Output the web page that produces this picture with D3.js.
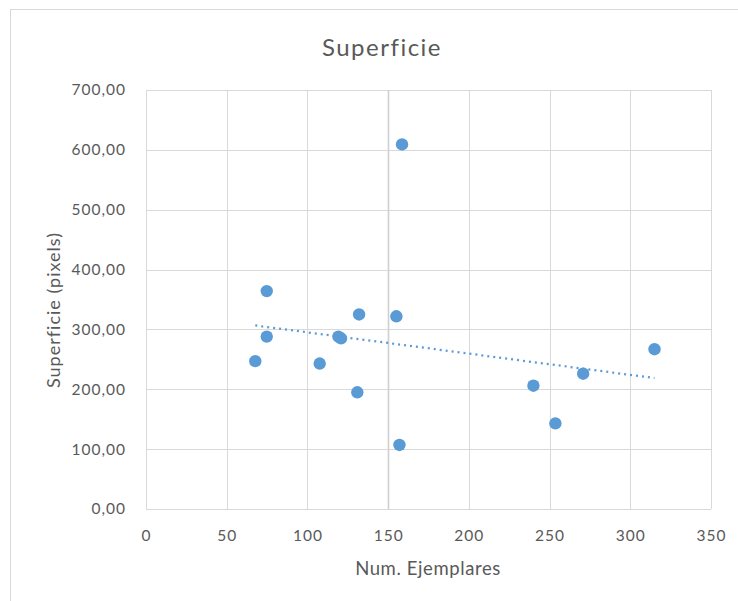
<!DOCTYPE html>
<html>
<head>
<meta charset="utf-8">
<script src="https://cdn.jsdelivr.net/npm/d3@7"></script>
<style>
  body { margin: 0; background: #fff; }
  text { font-family: Lato, "Open Sans", sans-serif; fill: #595959; }
</style>
</head>
<body>
<div id="chart"></div>
<script>
// values
var xValues = [158.6, 74.8, 74.8, 67.7, 107.6, 119.2, 120.8, 132.0, 130.9, 155.1, 157.0, 240.0, 253.6, 270.8, 315.0];
var yValues = [609, 364, 288, 247, 243, 288, 285, 325, 195, 322, 107, 206, 143, 226, 267];
var xTicks = [0, 50, 100, 150, 200, 250, 300, 350];
var yTicks = [0, 100, 200, 300, 400, 500, 600, 700];

var W = 738, H = 601;
var margin = {top: 90, right: 27, bottom: 92, left: 146};
var width = 711 - margin.left,
    height = 509 - margin.top;

var svg = d3.select("#chart").append("svg")
    .attr("width", W)
    .attr("height", H);

// chart frame
svg.append("rect")
    .attr("x", 10.5).attr("y", 9.5)
    .attr("width", W + 10).attr("height", H + 10)
    .attr("fill", "none")
    .attr("stroke", "#d9d9d9");

var g = svg.append("g")
    .attr("transform", "translate(" + margin.left + "," + margin.top + ")");

var x = d3.scaleLinear().domain([0, 350]).range([0, width]);
var y = d3.scaleLinear().domain([0, 700]).range([height, 0]);

// gridlines
g.append("g")
    .selectAll("line")
    .data(yTicks)
    .enter()
    .append("line")
    .attr("x1", 0).attr("x2", width)
    .attr("y1", d => Math.round(y(d)) + 0.5)
    .attr("y2", d => Math.round(y(d)) + 0.5)
    .attr("stroke", "#d9d9d9");

g.append("g")
    .selectAll("line")
    .data(xTicks)
    .enter()
    .append("line")
    .attr("x1", d => Math.round(x(d)) + 0.5)
    .attr("x2", d => Math.round(x(d)) + 0.5)
    .attr("y1", 0).attr("y2", height)
    .attr("stroke", d => d == 150 ? "#cfcfcf" : "#d9d9d9")
    .attr("stroke-width", d => d == 150 ? 1.6 : 1);

// axes (labels only)
var fmt = d => d3.format(".2f")(d).replace(".", ",");

var yAxis = g.append("g")
    .call(d3.axisLeft(y).tickValues(yTicks).tickFormat(fmt).tickSize(0).tickPadding(20));
yAxis.select(".domain").remove();
yAxis.selectAll("text")
    .style("font-size", "15.5px")
    .style("letter-spacing", "1px")
    .attr("fill", "#595959");

var xAxis = g.append("g")
    .attr("transform", "translate(0," + height + ")")
    .call(d3.axisBottom(x).tickValues(xTicks).tickSize(0).tickPadding(21));
xAxis.select(".domain").remove();
xAxis.selectAll("text")
    .style("font-size", "15.5px")
    .style("letter-spacing", "1px")
    .attr("fill", "#595959");

// trendline: least squares fit over the points
var n = xValues.length;
var mx = d3.mean(xValues), my = d3.mean(yValues);
var sxy = 0, sxx = 0;
for (let i = 0; i < n; i++) {
    sxy += (xValues[i] - mx) * (yValues[i] - my);
    sxx += (xValues[i] - mx) * (xValues[i] - mx);
}
var slope = sxy / sxx, icpt = my - slope * mx;
var trendX = d3.extent(xValues);

g.append("line")
    .attr("x1", x(trendX[0])).attr("y1", y(icpt + slope * trendX[0]))
    .attr("x2", x(trendX[1])).attr("y2", y(icpt + slope * trendX[1]))
    .attr("stroke", "#5b9bd5")
    .attr("stroke-width", 2.25)
    .attr("stroke-dasharray", "2,4");

// points
g.selectAll("circle")
    .data(xValues.map((v, i) => ({x: v, y: yValues[i]})))
    .enter()
    .append("circle")
    .attr("cx", d => x(d.x))
    .attr("cy", d => y(d.y))
    .attr("r", 6.2)
    .attr("fill", "#5b9bd5");

// titles
svg.append("text")
    .attr("x", 382).attr("y", 56)
    .attr("text-anchor", "middle")
    .style("font-size", "24px")
    .style("letter-spacing", "1.5px")
    .text("Superficie");

svg.append("text")
    .attr("x", 428).attr("y", 575)
    .attr("text-anchor", "middle")
    .style("font-size", "18.5px")
    .style("letter-spacing", "0.6px")
    .text("Num. Ejemplares");

svg.append("text")
    .attr("transform", "translate(60,310) rotate(-90)")
    .attr("text-anchor", "middle")
    .style("font-size", "18px")
    .style("letter-spacing", "1px")
    .text("Superficie (pixels)");
</script>
</body>
</html>
